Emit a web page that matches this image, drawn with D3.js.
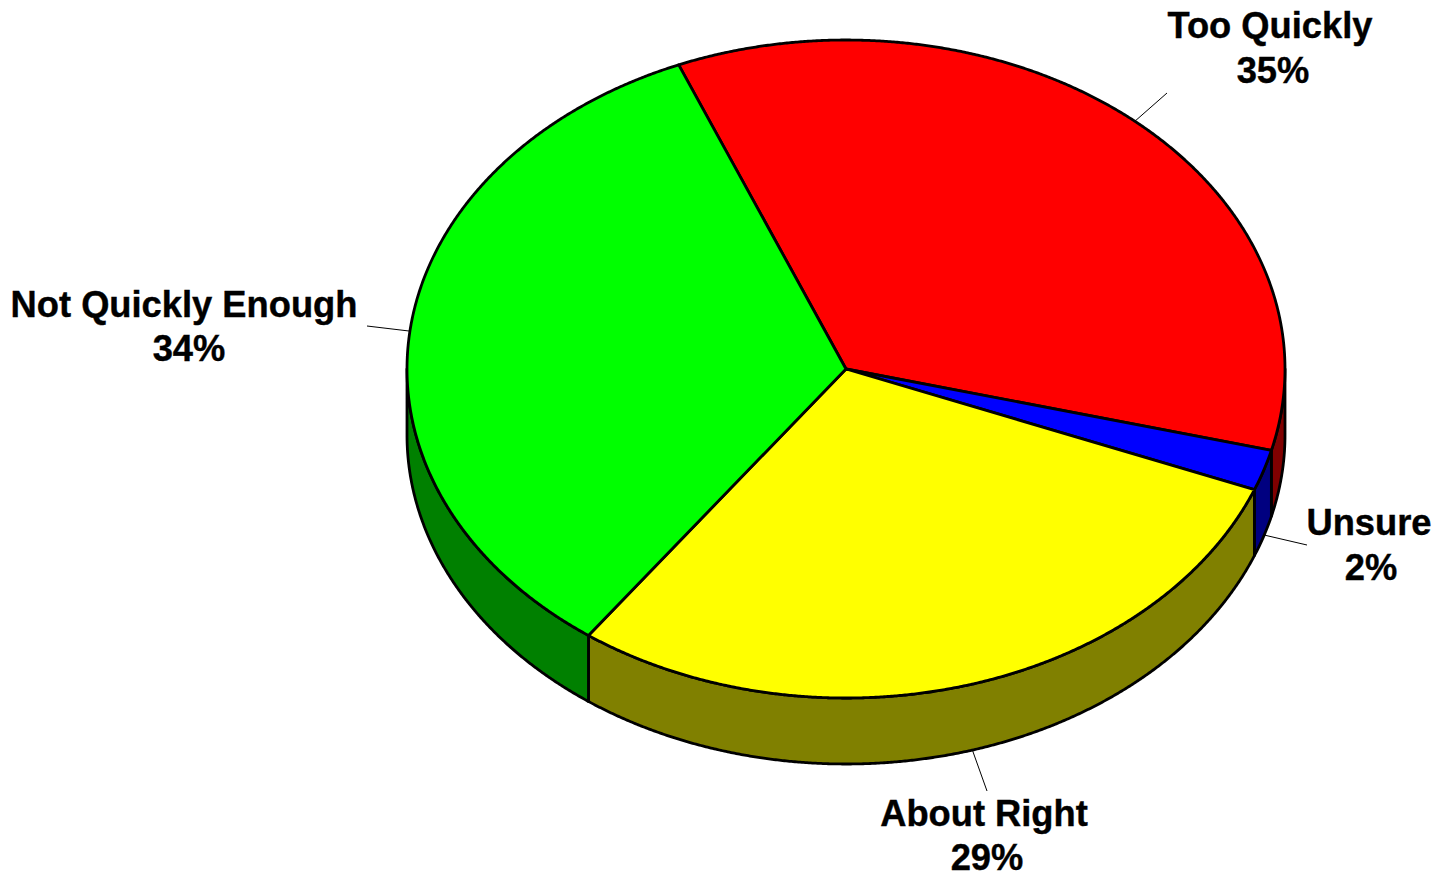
<!DOCTYPE html>
<html>
<head>
<meta charset="utf-8">
<script src="https://cdn.jsdelivr.net/npm/d3@7/dist/d3.min.js"></script>
<style>html,body{margin:0;padding:0;background:#fff;overflow:hidden}svg{display:block}</style>
</head>
<body>
<svg id="chart" width="1437" height="872"></svg>
<script>
const categories = ["Too Quickly", "Unsure", "About Right", "Not Quickly Enough"];
const values = [35.2, 2.0, 29.0, 33.8];
const topColors = ["#ff0000", "#0000ff", "#ffff00", "#00ff00"];
const sideColors = ["#800000", "#000080", "#808000", "#008000"];
const nameLabelPos = [[1270, 38], [1369, 535], [984, 826], [184, 317]];
const pctLabelPos = [[1273, 83], [1371, 580], [987, 870], [189, 361]];
const leaders = [[[1134, 122], [1167, 93]], [[1264, 535], [1307, 545]], [[972, 749], [987, 791]], [[409, 331], [367, 326]]];

const svg = d3.select("#chart");
const x = d3.scaleLinear().domain([-1, 1]).range([407, 1285]);
const y = d3.scaleLinear().domain([-1, 1]).range([40, 698]);
const depth = 66;
const startAngle = -22.4 * Math.PI / 180;
const FRONT0 = Math.PI / 2, FRONT1 = 3 * Math.PI / 2;

const arcs = d3.pie().sort(null).startAngle(startAngle).endAngle(startAngle + 2 * Math.PI)(values);
const samples = (a, b) => d3.range(a, b, 0.004).concat([b]);
const px = t => x(Math.sin(t));
const py = t => y(-Math.cos(t));
const line = d3.line();

// side walls
const walls = svg.append("g");
arcs.forEach((d, i) => {
  const a = Math.max(d.startAngle, FRONT0), b = Math.min(d.endAngle, FRONT1);
  if (a >= b) return;
  const ts = samples(a, b);
  const pts = ts.map(t => [px(t), py(t)]).concat(ts.slice().reverse().map(t => [px(t), py(t) + depth]));
  walls.append("path").attr("d", line(pts) + "Z")
    .attr("fill", sideColors[i]).attr("stroke", "#000").attr("stroke-width", 2.8).attr("stroke-linejoin", "round");
});

// top slices
const tops = svg.append("g");
arcs.forEach((d, i) => {
  const pts = [[x(0), y(0)]].concat(samples(d.startAngle, d.endAngle).map(t => [px(t), py(t)]));
  tops.append("path").attr("d", line(pts) + "Z")
    .attr("fill", topColors[i]).attr("stroke", "#000").attr("stroke-width", 2.8).attr("stroke-linejoin", "round");
});

// leader lines
svg.append("g").selectAll("path").data(leaders).join("path")
  .attr("d", d => line(d)).attr("fill", "none").attr("stroke", "#000").attr("stroke-width", 1);

// labels
const labels = svg.append("g")
  .attr("font-family", "'Liberation Sans', Arial, sans-serif")
  .attr("font-weight", "bold").attr("font-size", 36.3).attr("text-anchor", "middle")
  .attr("fill", "#000").attr("stroke", "#000").attr("stroke-width", 0.4);
categories.forEach((c, i) => {
  labels.append("text").attr("x", nameLabelPos[i][0]).attr("y", nameLabelPos[i][1]).text(c);
  labels.append("text").attr("x", pctLabelPos[i][0]).attr("y", pctLabelPos[i][1]).text(Math.round(values[i]) + "%");
});
</script>
</body>
</html>
